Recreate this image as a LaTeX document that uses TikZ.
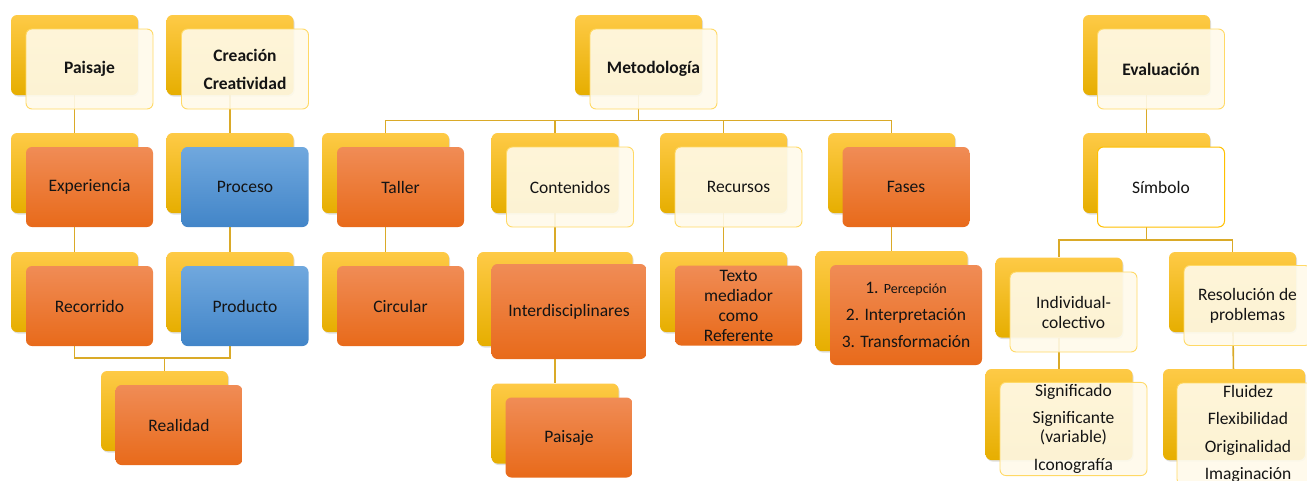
\documentclass[tikz,border=0pt]{standalone}
\usepackage{fontspec}
\setmainfont{Carlito}
\usetikzlibrary{shadows, backgrounds}

\definecolor{goldT}{RGB}{254,202,70}
\definecolor{goldM}{RGB}{255,192,0}
\definecolor{goldB}{RGB}{230,174,0}
\definecolor{orT}{RGB}{240,140,86}
\definecolor{orM}{RGB}{242,122,44}
\definecolor{orB}{RGB}{232,106,26}
\definecolor{blT}{RGB}{112,168,222}
\definecolor{blB}{RGB}{66,133,200}
\definecolor{cream}{RGB}{255,250,234}
\definecolor{creamline}{RGB}{255,217,102}
\definecolor{linkcol}{RGB}{218,170,40}
\definecolor{ink}{RGB}{20,20,20}

\tikzset{
  card/.style={rectangle, rounded corners=6pt, minimum width=127pt, minimum height=80pt,
    inner sep=2pt, align=center, text=ink},
  back/.style={card, top color=goldT, middle color=goldM, bottom color=goldB,
    drop shadow={opacity=0.25, shadow xshift=1pt, shadow yshift=-1.5pt}},
  orange/.style={card, top color=orT, middle color=orM, bottom color=orB},
  blue/.style={card, top color=blT, bottom color=blB},
  light/.style={card, draw=creamline, line width=0.9pt, fill=cream, fill opacity=0.9, text opacity=1},
  plain/.style={card, draw=goldM, line width=1pt, fill=white},
  title/.style={font=\fontsize{17.5}{20}\selectfont\bfseries},
  link/.style={draw=linkcol, line width=1.6pt}
}

\begin{document}
\begin{tikzpicture}[x=1pt, y=-1pt, font=\fontsize{17.5}{20}\selectfont]
  \useasboundingbox (0,0) rectangle (1307,480);
  \clip (0,0) rectangle (1307,480);

  % Paisaje / Creacion
  \node[back] (paisaje-b) at (74.5,55) {};
  \node[light, title] (paisaje) at (89.5,69) {Paisaje};
  \node[back] (creacion-b) at (230,55) {};
  \node[light, title] (creacion) at (245,69) {Creación\\[8pt]Creatividad};

  \node[back] (experiencia-b) at (74.5,173) {};
  \node[orange] (experiencia) at (89.5,187) {Experiencia};
  \node[back] (proceso-b) at (230,173) {};
  \node[blue] (proceso) at (245,187) {Proceso};

  \node[back] (recorrido-b) at (74.5,292) {};
  \node[orange] (recorrido) at (89.5,306) {Recorrido};
  \node[back] (producto-b) at (230,292) {};
  \node[blue] (producto) at (245,306) {Producto};

  \node[back] (realidad-b) at (164.5,411) {};
  \node[orange] (realidad) at (179,425) {Realidad};
  \coordinate (realidad-j) at (164.5,358);

  % Metodologia
  \node[back] (metodo-b) at (638.5,55) {};
  \node[light, title] (metodo) at (653.5,69) {Metodología};
  \coordinate (metodo-j) at (638.5,120.5);

  \node[back] (taller-b) at (385.5,173) {};
  \node[orange] (taller) at (400.5,187) {Taller};
  \node[back] (contenidos-b) at (555,173) {};
  \node[light] (contenidos) at (570,187) {Contenidos};
  \node[back] (recursos-b) at (723.5,173) {};
  \node[light] (recursos) at (738.5,187) {Recursos};
  \node[back] (fases-b) at (891.5,173) {};
  \node[orange] (fases) at (906,187) {Fases};

  \node[back] (circular-b) at (385.5,292) {};
  \node[orange] (circular) at (400.5,306) {Circular};
  \node[back, minimum width=155pt, minimum height=94pt] (interdis-b) at (555,299) {};
  \node[orange, minimum width=155pt, minimum height=95pt] (interdis) at (569,311.5) {Interdisciplinares};
  \node[back] (paisajedos-b) at (555,423.5) {};
  \node[orange] (paisajedos) at (569,437.5) {Paisaje};

  \node[back] (texto-b) at (723.5,292) {};
  \node[orange] (texto) at (738.5,305.5) {Texto\\mediador\\como\\Referente};
  \node[back, minimum width=152pt, minimum height=100pt] (pasos-b) at (891.5,301) {};
  \node[orange, minimum width=152pt, minimum height=100pt] (pasos) at (906,315)
    {1. {\fontsize{14}{20}\selectfont Percepción}\\[7pt]2. Interpretación\\[7pt]3. Transformación};

  % Evaluacion
  \node[back] (evaluacion-b) at (1146.5,55) {};
  \node[light, title] (evaluacion) at (1161,69) {Evaluación};
  \node[back] (simbolo-b) at (1146.5,173) {};
  \node[plain] (simbolo) at (1161,187) {Símbolo};
  \coordinate (evaluacion-j) at (1146.5,240);

  \node[back] (individual-b) at (1059,297.5) {};
  \node[light] (individual) at (1073.5,312) {Individual-\\colectivo};
  \node[back] (resolucion-b) at (1232.5,292) {};
  \node[light] (resolucion) at (1247.5,305.5) {Resolución de\\problemas};

  \node[back, minimum width=147pt, minimum height=91pt] (significado-b) at (1059,414.5) {};
  \node[light, minimum width=147pt, minimum height=92pt] (significado) at (1073.5,429)
    {Significado\\[7pt]Significante\\[-1pt](variable)\\[8pt]Iconografía};
  \node[back, minimum width=142pt, minimum height=91pt] (fluidez-b) at (1234,414.5) {};
  \node[light, minimum width=142pt, minimum height=102pt] (fluidez) at (1248,434)
    {Fluidez\\[7pt]Flexibilidad\\[8pt]Originalidad\\[7pt]Imaginación};

  % connectors
  \begin{scope}[on background layer]
    \draw[link] (paisaje-b) -- (experiencia-b);
    \draw[link] (experiencia-b) -- (recorrido-b);
    \draw[link] (creacion-b) -- (proceso-b);
    \draw[link] (proceso-b) -- (producto-b);
    \draw[link] (recorrido-b) |- (realidad-j);
    \draw[link] (producto-b) |- (realidad-j);
    \draw[link] (realidad-j) -- (realidad-b);

    \draw[link] (metodo-b) -- (metodo-j);
    \foreach \k in {taller, contenidos, recursos, fases}
      \draw[link] (metodo-j) -| (\k-b);
    \draw[link] (taller-b) -- (circular-b);
    \draw[link] (contenidos-b) -- (interdis-b);
    \draw[link] (interdis-b) -- (paisajedos-b);
    \draw[link] (recursos-b) -- (texto-b);
    \draw[link] (fases-b) -- (pasos-b);

    \draw[link] (evaluacion-b) -- (simbolo-b);
    \draw[link] (simbolo-b) -- (evaluacion-j);
    \draw[link] (evaluacion-j) -| (individual-b);
    \draw[link] (evaluacion-j) -| (resolucion-b);
    \draw[link] (individual-b) -- (significado-b);
    \draw[link] (resolucion-b) -- (fluidez-b);
  \end{scope}
\end{tikzpicture}
\end{document}
